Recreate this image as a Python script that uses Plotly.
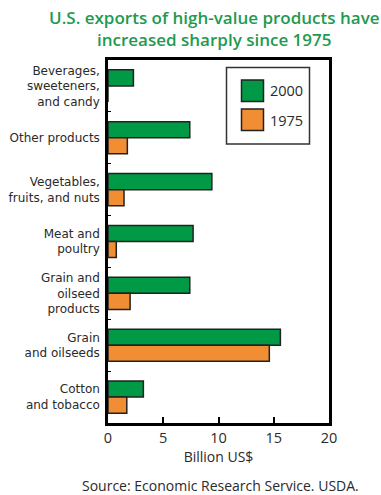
import plotly.graph_objects as go

categories = [
    "Beverages,<br>sweeteners,<br>and candy",
    "Other products",
    "Vegetables,<br>fruits, and nuts",
    "Meat and<br>poultry",
    "Grain and<br>oilseed<br>products",
    "Grain<br>and oilseeds",
    "Cotton<br>and tobacco",
]
values_2000 = [2.3, 7.4, 9.4, 7.7, 7.4, 15.6, 3.2]
values_1975 = [0.0, 1.75, 1.45, 0.75, 2.0, 14.6, 1.7]
series_names = ["2000", "1975"]
x_ticks = [0, 5, 10, 15, 20]

GREEN = "#009A46"
ORANGE = "#F18D33"
EDGE = "#222222"
TEXT = "#2a2a2a"
FONT = "Open Sans"
LABEL_FONT = "DejaVu Sans"

fig = go.Figure()
fig.add_trace(go.Bar(y=categories, x=values_2000, name=series_names[0], orientation="h",
                     marker=dict(color=GREEN, line=dict(color=EDGE, width=1.5))))
fig.add_trace(go.Bar(y=categories, x=values_1975, name=series_names[1], orientation="h",
                     marker=dict(color=ORANGE, line=dict(color=EDGE, width=1.5))))

fig.update_layout(
    width=381, height=495,
    margin=dict(l=108, r=52, t=60, b=72),
    paper_bgcolor="white", plot_bgcolor="white",
    barmode="group", bargap=0.38, bargroupgap=0,
    showlegend=False,
    font=dict(family=FONT, size=12.5, color=TEXT),
)
fig.update_xaxes(range=[0, 20], tickvals=x_ticks, ticks="inside", ticklen=6, tickwidth=2,
                 tickcolor="black", showline=True, linecolor="black", linewidth=2.5,
                 mirror=True, showgrid=False, zeroline=False, automargin=False,
                 tickfont=dict(size=14.5, color=TEXT),
                 title=dict(text="Billion US$", font=dict(size=14, color=TEXT), standoff=5))
fig.update_yaxes(autorange="reversed", ticks="inside", tickson="boundaries", ticklen=3,
                 tickcolor="black", showline=True, linecolor="black", linewidth=2.5,
                 mirror=True, showgrid=False, ticklabelstandoff=3, automargin=False,
                 tickfont=dict(family=LABEL_FONT, size=12, color=TEXT))

# Title
fig.add_annotation(text="U.S. exports of high-value products have<br>increased sharply since 1975",
                   xref="paper", yref="paper", x=(214 - 108) / (329 - 108), y=1, yshift=56,
                   xanchor="center", yanchor="top", showarrow=False, align="center",
                   font=dict(family=FONT, size=17, color="#1E9A50", weight=600))
# Source
fig.add_annotation(text="Source: Economic Research Service. USDA.", xref="paper", yref="paper",
                   x=(220 - 108) / (329 - 108), y=0, yshift=-(485 - 423), xanchor="center",
                   yanchor="middle", borderpad=0, showarrow=False,
                   font=dict(family=FONT, size=14, color=TEXT))

# Legend box (paper coordinates from pixel positions)
def px_x(px):
    return (px - 108) / (329 - 108)

def px_y(py):
    return (423 - py) / (423 - 60)

fig.add_shape(type="rect", xref="paper", yref="paper", x0=px_x(226.5), x1=px_x(309.5),
              y0=px_y(144), y1=px_y(67.5), line=dict(color="#333", width=1.5), fillcolor="white")
for i, (name, col) in enumerate(zip(series_names, [GREEN, ORANGE])):
    top = 80 + i * 29
    fig.add_shape(type="rect", xref="paper", yref="paper", x0=px_x(241.5), x1=px_x(263.5),
                  y0=px_y(top + 21.5), y1=px_y(top), line=dict(color=EDGE, width=1.5), fillcolor=col)
    fig.add_annotation(text=name, xref="paper", yref="paper", x=px_x(268), y=px_y(top + 11),
                       xanchor="left", yanchor="middle", showarrow=False,
                       font=dict(family=FONT, size=14.5, color=TEXT))

fig.write_html("out.html")
